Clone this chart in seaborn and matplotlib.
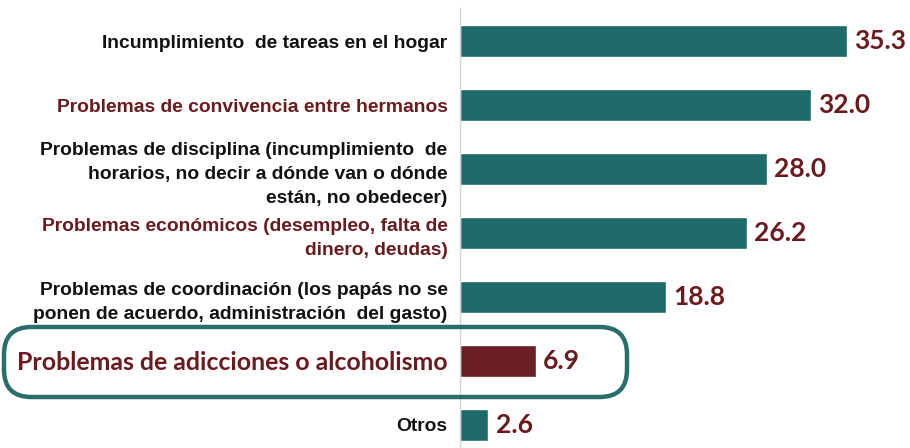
import numpy as np
import pandas as pd
import matplotlib
matplotlib.use("Agg")
import matplotlib.pyplot as plt
from matplotlib.patches import FancyBboxPatch
import seaborn as sns

categorias = ['Incumplimiento  de tareas en el hogar',
              'Problemas de convivencia entre hermanos',
              'Problemas de disciplina (incumplimiento  de\nhorarios, no decir a dónde van o dónde\nestán, no obedecer)',
              'Problemas económicos (desempleo, falta de\ndinero, deudas)',
              'Problemas de coordinación (los papás no se\nponen de acuerdo, administración  del gasto)',
              'Problemas de adicciones o alcoholismo',
              'Otros']
valores = [35.3, 32.0, 28.0, 26.2, 18.8, 6.9, 2.6]
destacado = 'Problemas de adicciones o alcoholismo'

TEAL = '#1f6a68'
ROJO = '#6a1f22'
ROJO_TXT = '#6b1a1e'
NEGRO = '#111111'

df = pd.DataFrame({'cat': categorias, 'val': valores})
colores = [ROJO if c == destacado else TEAL for c in categorias]

sns.set_style("white")
fig = plt.figure(figsize=(9.10, 4.48), dpi=100)
ax = fig.add_axes([460/910, 0, 450/910, 440/448])

sns.barplot(data=df, x='val', y='cat', hue='cat', palette=colores, legend=False,
            orient='h', width=0.5, ax=ax, saturation=1)

ax.set_xlim(0, 41.06)
ax.set_ylim(6.36, -0.516)
ax.set_xlabel('')
ax.set_ylabel('')
ax.set_xticks([])
for s in ['top', 'right', 'bottom']:
    ax.spines[s].set_visible(False)
ax.spines['left'].set_color('#d4d4d4')
ax.spines['left'].set_linewidth(1.0)
ax.tick_params(axis='y', length=0, pad=9)

ax.set_yticks(range(len(categorias)))
ax.set_yticklabels(categorias)
for i, lab in enumerate(ax.get_yticklabels()):
    lab.set_horizontalalignment('right')
    if categorias[i] == destacado:
        lab.set_fontfamily('Lato')
        lab.set_fontweight('bold')
        lab.set_fontsize(17.9)
        lab.set_color(ROJO_TXT)
    else:
        lab.set_fontfamily('Liberation Sans')
        lab.set_fontweight('bold')
        lab.set_fontsize(13.9)
        lab.set_color(ROJO_TXT if i in (1, 3) else NEGRO)
        lab.set_linespacing(1.55)

for i, v in enumerate(valores):
    ax.text(v + 0.65, i, f'{v:.1f}', va='center', ha='left',
            fontfamily='Lato', fontweight='bold', fontsize=19, color=ROJO_TXT)

caja = FancyBboxPatch((4/910, 1 - 397/448), 623/910, 70/448,
                      boxstyle='round,pad=0,rounding_size=0.03',
                      transform=fig.transFigure, fill=False,
                      edgecolor='#2a6e6c', linewidth=3.2, mutation_aspect=910/448)
fig.patches.append(caja)

fig.savefig('out.png', dpi=100)
